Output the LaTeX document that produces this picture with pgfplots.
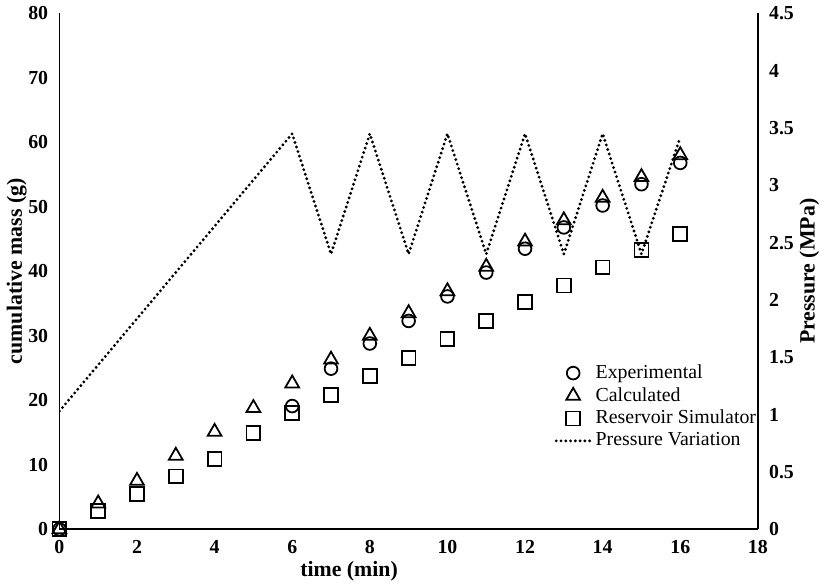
\documentclass[border=0pt]{standalone}
\usepackage{pgfplots}
\pgfplotsset{compat=1.18}
\usepackage{fontspec}
\setmainfont{Liberation Serif}

\pgfplotstableread{
t exp
0 0
6 19.1
7 24.9
8 28.8
9 32.3
10 36.1
11 39.8
12 43.5
13 46.8
14 50.2
15 53.5
16 56.8
}\experimental

\pgfplotstableread{
t calc
0 0
1 4.0
2 7.5
3 11.4
4 15.1
5 18.8
6 22.6
7 26.3
8 30.0
9 33.5
10 36.9
11 40.7
12 44.6
13 47.9
14 51.4
15 54.6
16 58.0
}\calculated

\pgfplotstableread{
t sim
0 0
1 2.8
2 5.5
3 8.2
4 10.9
5 14.9
6 18.0
7 20.8
8 23.8
9 26.6
10 29.5
11 32.3
12 35.2
13 37.8
14 40.6
15 43.3
16 45.8
}\simulator

\pgfplotstableread{
t p
0 1.03
6 3.45
7 2.40
8 3.45
9 2.40
10 3.45
11 2.40
12 3.45
13 2.40
14 3.45
15 2.40
16 3.42
}\pressure

\begin{document}
\begin{tikzpicture}
\pgfplotsset{
  every axis/.append style={
    scale only axis, width=352pt, height=260pt,
    xmin=0, xmax=18,
    tick style={draw=none},
    ticklabel style={font=\bfseries\fontsize{10}{12}\selectfont},
    /pgf/number format/assume math mode=true,
    axis line style={line width=0.8pt},
  }
}
\begin{axis}[
  axis x line=bottom, axis y line=left,
  axis line style={-},
  ymin=0, ymax=80,
  xtick={0,2,...,18}, ytick={0,10,...,80},
  xlabel={time (min)}, ylabel={cumulative mass (g)},
  xlabel style={font=\bfseries\fontsize{11}{13}\selectfont, xshift=-30pt, yshift=3pt},
  ylabel style={font=\bfseries\fontsize{11}{13}\selectfont, yshift=-6pt},
  legend style={draw=none, fill=none, at={(0.7,0.335)}, anchor=north west,
    font=\fontsize{10}{12}\selectfont, row sep=-1pt},
  legend cell align=left,
]
\addplot[only marks, mark=o, mark size=3.2pt, line width=0.9pt] table[x=t,y=exp] {\experimental};
\addlegendentry{Experimental}
\addplot[only marks, mark=triangle, mark size=4pt, line width=0.9pt] table[x=t,y=calc] {\calculated};
\addlegendentry{Calculated}
\addplot[only marks, mark=square, mark size=3.5pt, line width=0.9pt] table[x=t,y=sim] {\simulator};
\addlegendentry{Reservoir Simulator}
\addlegendimage{line width=1.6pt, line cap=round, dash pattern=on 0pt off 2.4pt}
\addlegendentry{Pressure Variation}
\end{axis}
\begin{axis}[
  axis x line=none, axis y line=right,
  axis line style={-},
  ymin=0, ymax=4.5,
  ytick={0,0.5,...,4.5},
  yticklabel style={/pgf/number format/fixed},
  ylabel={\bfseries Pressure (MPa)},
  ylabel style={font=\bfseries\fontsize{11}{13}\selectfont, yshift=4pt},
]
\addplot[line width=1.6pt, line cap=round, dash pattern=on 0pt off 2.4pt] table[x=t,y=p] {\pressure};
\end{axis}
\end{tikzpicture}
\end{document}
